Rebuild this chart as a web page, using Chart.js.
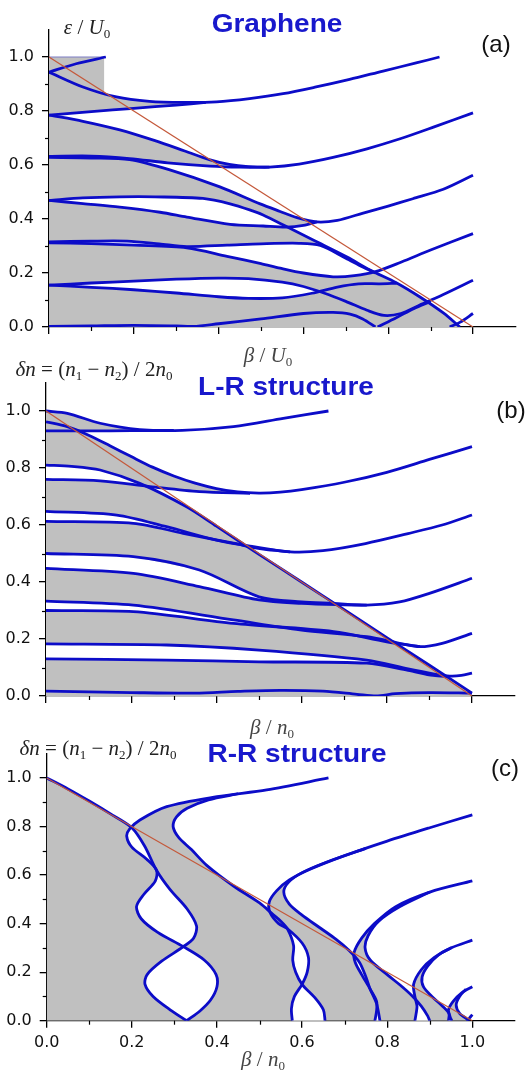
<!DOCTYPE html>
<html>
<head>
<meta charset="utf-8">
<script src="https://cdn.jsdelivr.net/npm/chart.js@4.4.1/dist/chart.umd.min.js"></script>
<style>
  body { margin: 0; background: #fff; }
  #page { position: relative; width: 528px; height: 1070px; overflow: hidden; }
  canvas { position: absolute; left: 0; }
  .t { position: absolute; white-space: nowrap; transform: translate(-50%, -50%); z-index: 5; }
  .title { font: bold 25px "Liberation Sans", Arial, sans-serif; color: #1818cc; transform: translate(-50%, -50%) scaleX(1.12); }
  .tag { font: 24px "Liberation Sans", Arial, sans-serif; color: #111; }
  .ax { font: 21px "Liberation Serif", "Times New Roman", serif; color: #222; }
  .ax i { font-style: italic; }
  .ax sub { font-size: 0.62em; vertical-align: -0.35em; line-height: 0; }
  .beta { color: #444; }
</style>
</head>
<body>
<div id="page">
  <canvas id="ca"></canvas>
  <canvas id="cb"></canvas>
  <canvas id="cc"></canvas>

  <div class="t title" style="left:277px;top:23px">Graphene</div>
  <div class="t title" style="left:286px;top:386px">L-R structure</div>
  <div class="t title" style="left:297px;top:753px">R-R structure</div>
  <div class="t tag" style="left:496px;top:44px">(a)</div>
  <div class="t tag" style="left:511px;top:410px">(b)</div>
  <div class="t tag" style="left:505px;top:768px">(c)</div>
  <div class="t ax" style="left:87px;top:27px"><i>ε</i> / <i>U</i><sub>0</sub></div>
  <div class="t ax beta" style="left:268px;top:355px"><i>β</i> / <i>U</i><sub>0</sub></div>
  <div class="t ax" style="left:94px;top:369px"><i>δn</i> = (<i>n</i><sub>1</sub> − <i>n</i><sub>2</sub>) / 2<i>n</i><sub>0</sub></div>
  <div class="t ax beta" style="left:272px;top:727px"><i>β</i> / <i>n</i><sub>0</sub></div>
  <div class="t ax" style="left:98px;top:748px"><i>δn</i> = (<i>n</i><sub>1</sub> − <i>n</i><sub>2</sub>) / 2<i>n</i><sub>0</sub></div>
  <div class="t ax beta" style="left:263px;top:1059px"><i>β</i> / <i>n</i><sub>0</sub></div>
</div>

<script>
const BLUE = '#0c0cc8';
const GRAY = '#c0c0c0';
const RED = '#c4583a';

// ---- panel (a) : graphene, curves as [beta/U0, eps/U0]
const a0 = [[0,0.944],[0.064,0.975],[0.134,1.0]];
const a1 = [[0,0.944],[0.08,0.889],[0.159,0.852],[0.237,0.836],[0.316,0.832],[0.395,0.834],[0.473,0.846],[0.552,0.864],[0.63,0.889],[0.709,0.917],[0.788,0.948],[0.866,0.978],[0.921,1.0]];
const a2 = [[0,0.785],[0.1,0.798],[0.2,0.81],[0.3,0.822],[0.37,0.832]];
const b1 = [[0,0.785],[0.08,0.762],[0.167,0.73],[0.25,0.69],[0.32,0.652],[0.38,0.619],[0.425,0.602],[0.47,0.594],[0.52,0.592],[0.59,0.603],[0.67,0.628],[0.75,0.66],[0.83,0.698],[0.91,0.742],[1.0,0.793]];
const b2 = [[0,0.632],[0.1,0.633],[0.19,0.624],[0.28,0.608],[0.38,0.596],[0.45,0.592],[0.52,0.592]];
const b3 = [[0,0.628],[0.1,0.626],[0.19,0.62],[0.285,0.582],[0.403,0.519],[0.498,0.456],[0.545,0.428],[0.585,0.405],[0.632,0.389],[0.68,0.395],[0.741,0.422],[0.8,0.448],[0.858,0.475],[0.93,0.51],[1.0,0.562]];
const c1 = [[0,0.469],[0.08,0.478],[0.167,0.482],[0.25,0.482],[0.363,0.476],[0.427,0.456],[0.48,0.43],[0.505,0.415],[0.56,0.372],[0.623,0.322],[0.703,0.259],[0.757,0.211],[0.82,0.163],[0.875,0.111],[0.93,0.052],[0.969,0.0]];
const c2 = [[0,0.469],[0.08,0.457],[0.167,0.444],[0.262,0.425],[0.325,0.407],[0.427,0.38],[0.505,0.374],[0.56,0.37],[0.6,0.376],[0.632,0.389]];
const d1 = [[0,0.315],[0.1,0.318],[0.184,0.318],[0.26,0.308],[0.325,0.298],[0.42,0.303],[0.5,0.308],[0.59,0.31],[0.64,0.302],[0.7,0.255],[0.74,0.222],[0.77,0.2]];
const d2 = [[0,0.312],[0.1,0.309],[0.2,0.303],[0.325,0.293],[0.42,0.262],[0.5,0.235],[0.545,0.218],[0.6,0.2],[0.67,0.186],[0.72,0.19],[0.77,0.205],[0.83,0.24],[0.9,0.285],[1.0,0.346]];
const e1 = [[0,0.155],[0.1,0.163],[0.2,0.17],[0.3,0.177],[0.4,0.181],[0.47,0.179],[0.55,0.166],[0.6,0.15],[0.65,0.125],[0.7,0.095],[0.75,0.062],[0.79,0.043],[0.83,0.05],[0.87,0.078],[0.93,0.12],[1.0,0.173]];
const e2 = [[0,0.155],[0.1,0.147],[0.2,0.138],[0.3,0.126],[0.4,0.112],[0.47,0.106],[0.55,0.108],[0.62,0.125],[0.68,0.148],[0.73,0.16],[0.78,0.16],[0.82,0.162]];
const f0 = [[0,0.002],[0.1,0.004],[0.2,0.006],[0.3,0.004],[0.34,0.002],[0.4,0.012],[0.5,0.03],[0.6,0.05],[0.67,0.054],[0.71,0.048],[0.74,0.03],[0.77,0.0]];
const g0 = [[0.775,0],[0.82,0.035],[0.86,0.068],[0.9,0.095]];
const h0 = [[0.945,0],[0.97,0.018],[1.0,0.05]];

// ---- panel (b) : L-R structure
const bb1 = [[0,1.0],[0.05,0.992],[0.127,0.957],[0.22,0.935],[0.32,0.932],[0.44,0.945],[0.557,0.974],[0.663,1.0]];
const bb2 = [[0,0.93],[0.1,0.93],[0.2,0.931],[0.3,0.932]];
const bb3 = [[0,0.962],[0.05,0.945],[0.1,0.915],[0.15,0.878],[0.2,0.84],[0.25,0.803],[0.3,0.772],[0.35,0.747],[0.4,0.728],[0.45,0.716],[0.5,0.712],[0.55,0.715],[0.6,0.724],[0.7,0.75],[0.8,0.785],[0.9,0.83],[1.0,0.875]];
const bb4 = [[0,0.81],[0.06,0.806],[0.127,0.793],[0.22,0.746],[0.33,0.664],[0.4,0.596],[0.5,0.497],[0.6,0.4],[0.7,0.303],[0.8,0.205],[0.9,0.108],[1.0,0.01]];
const bb5 = [[0,0.76],[0.127,0.755],[0.244,0.735],[0.36,0.717],[0.479,0.711]];
const bb6 = [[0,0.648],[0.166,0.635],[0.283,0.594],[0.4,0.547],[0.487,0.524],[0.573,0.506],[0.65,0.51],[0.75,0.535],[0.85,0.57],[0.93,0.6],[1.0,0.635]];
const bb7 = [[0,0.613],[0.205,0.606],[0.322,0.571],[0.44,0.536],[0.51,0.515],[0.573,0.506]];
const bb8 = [[0,0.5],[0.205,0.489],[0.36,0.442],[0.5,0.348],[0.6,0.33],[0.675,0.325],[0.753,0.319],[0.83,0.33],[0.9,0.36],[1.0,0.413]];
const bb9 = [[0,0.448],[0.205,0.43],[0.36,0.384],[0.5,0.337],[0.6,0.325],[0.7,0.32],[0.753,0.319]];
const bb10 = [[0,0.333],[0.205,0.319],[0.44,0.267],[0.596,0.232],[0.753,0.208],[0.83,0.185],[0.878,0.173],[0.93,0.185],[1.0,0.22]];
const bb11 = [[0,0.3],[0.205,0.296],[0.44,0.255],[0.675,0.226],[0.8,0.19],[0.878,0.173]];
const bb12 = [[0,0.183],[0.283,0.179],[0.5,0.161],[0.753,0.126],[0.85,0.095],[0.909,0.078],[0.948,0.07],[0.975,0.072],[1.0,0.08]];
const bb13 = [[0,0.13],[0.283,0.126],[0.5,0.12],[0.753,0.115],[0.85,0.09],[0.909,0.072],[0.948,0.068]];
const bb14 = [[0,0.017],[0.2,0.012],[0.35,0.01],[0.45,0.016],[0.55,0.02],[0.65,0.017],[0.73,0.006],[0.775,0.0],[0.82,0.008],[0.9,0.012],[1.0,0.01]];

// ---- panel (c) : R-R structure (curves turn back, so plain point lists)
const cD  = [[0,1.0],[0.05,0.955],[0.1,0.905],[0.15,0.852],[0.2,0.795],[0.23,0.72],[0.258,0.62],[0.29,0.54],[0.33,0.46],[0.352,0.39],[0.345,0.34],[0.321,0.305],[0.27,0.245],[0.236,0.19],[0.231,0.15],[0.25,0.1],[0.29,0.045],[0.329,0.0]];
const cO1 = [[0.662,1.0],[0.517,0.951],[0.4,0.923],[0.282,0.882],[0.219,0.827],[0.195,0.79],[0.188,0.76],[0.2,0.715],[0.235,0.665],[0.258,0.62],[0.255,0.575],[0.228,0.52],[0.211,0.47],[0.222,0.42],[0.26,0.365],[0.321,0.305],[0.37,0.25],[0.398,0.19],[0.4,0.14],[0.385,0.085],[0.36,0.04],[0.329,0.0]];
const cI1 = [[0.45,0.935],[0.38,0.91],[0.33,0.875],[0.305,0.84],[0.297,0.8],[0.31,0.755],[0.34,0.705],[0.376,0.64],[0.439,0.555],[0.5,0.485],[0.53,0.44],[0.55,0.41],[0.565,0.38],[0.58,0.31],[0.578,0.25],[0.585,0.2],[0.6,0.15],[0.63,0.095],[0.65,0.045],[0.654,0.0]];
const cO2 = [[1.0,0.848],[0.9,0.795],[0.8,0.74],[0.7,0.68],[0.62,0.625],[0.57,0.58],[0.54,0.535],[0.523,0.49],[0.525,0.445],[0.545,0.4],[0.565,0.38],[0.6,0.32],[0.615,0.26],[0.612,0.2],[0.6,0.15],[0.582,0.1],[0.575,0.05],[0.577,0.0]];
const cI2 = [[0.75,0.71],[0.66,0.655],[0.6,0.61],[0.568,0.57],[0.557,0.53],[0.57,0.48],[0.6,0.435],[0.64,0.385],[0.68,0.335],[0.71,0.29],[0.735,0.24],[0.75,0.18],[0.76,0.13],[0.775,0.07],[0.783,0.0]];
const cO3 = [[1.0,0.576],[0.9,0.53],[0.82,0.47],[0.77,0.4],[0.74,0.34],[0.722,0.28],[0.725,0.24],[0.74,0.19],[0.76,0.13],[0.775,0.08],[0.775,0.04],[0.771,0.0]];
const cI3 = [[0.9,0.53],[0.83,0.47],[0.78,0.41],[0.755,0.35],[0.748,0.3],[0.76,0.25],[0.8,0.19],[0.835,0.14],[0.86,0.1],[0.88,0.06],[0.895,0.02],[0.9,0.0]];
const cO4 = [[1.0,0.332],[0.95,0.3],[0.91,0.26],[0.88,0.21],[0.862,0.15],[0.865,0.1],[0.87,0.06],[0.868,0.03],[0.865,0.0]];
const cI4 = [[0.95,0.3],[0.92,0.27],[0.895,0.225],[0.882,0.18],[0.885,0.14],[0.905,0.1],[0.93,0.06],[0.945,0.03],[0.944,0.0]];
const cO5 = [[1.0,0.14],[0.975,0.115],[0.955,0.08],[0.944,0.045],[0.948,0.015],[0.952,0.0]];
const cI5 = [[0.985,0.13],[0.97,0.1],[0.962,0.065],[0.97,0.03],[0.985,0.01],[0.99,0.0]];
const cX  = [[1.0,0.025],[0.993,0.01],[0.99,0.0]];
// outline of the grey area in (c)
const cGray = [[0,0],[0,1.0],[0.05,0.955],[0.1,0.905],[0.15,0.852],[0.2,0.795],[0.219,0.827],[0.282,0.882],[0.4,0.923],[0.45,0.935],[0.38,0.91],[0.33,0.875],[0.305,0.84],[0.297,0.8],[0.31,0.755],[0.34,0.705],[0.376,0.64],[0.439,0.555],[0.5,0.485],[0.515,0.465],[0.523,0.49],[0.54,0.535],[0.57,0.58],[0.62,0.625],[0.7,0.68],[0.75,0.71],[0.66,0.655],[0.6,0.61],[0.568,0.57],[0.557,0.53],[0.57,0.48],[0.6,0.435],[0.64,0.385],[0.68,0.335],[0.71,0.29],[0.722,0.28],[0.74,0.34],[0.77,0.4],[0.82,0.47],[0.9,0.53],[0.83,0.47],[0.78,0.41],[0.755,0.35],[0.748,0.3],[0.76,0.25],[0.8,0.19],[0.835,0.14],[0.862,0.15],[0.88,0.21],[0.91,0.26],[0.95,0.3],[0.92,0.27],[0.895,0.225],[0.882,0.18],[0.885,0.14],[0.905,0.1],[0.93,0.06],[0.944,0.045],[0.955,0.08],[0.975,0.115],[0.985,0.13],[0.97,0.1],[0.962,0.065],[0.97,0.03],[0.985,0.01],[0.99,0.0]];

const diag = [[0,1],[1,0]];

// helpers
const P = a => a.map(([x, y]) => ({x, y}));
const rev = a => a.slice().reverse();
// piece of an x-monotone curve between x0 and x1
function seg(c, x0, x1) {
  const at = x => {
    for (let i = 1; i < c.length; i++) {
      const [xa, ya] = c[i-1], [xb, yb] = c[i];
      if (x >= xa && x <= xb) return [x, ya + (yb - ya) * (x - xa) / (xb - xa)];
    }
    return null;
  };
  const out = [at(x0)];
  c.forEach(p => { if (p[0] > x0 && p[0] < x1) out.push(p); });
  out.push(at(x1));
  return out.filter(Boolean);
}
const lens = (u, l, x1) => [...seg(u, 0, x1), ...rev(seg(l, 0, x1))];

const line = (d, w) => ({data: P(d), borderColor: BLUE, borderWidth: w || 2.8, pointRadius: 0, tension: 0.3, fill: false, order: 1});
const shape = (d, color, order) => ({data: P(d), borderWidth: 0, borderColor: 'rgba(0,0,0,0)', backgroundColor: color, pointRadius: 0, tension: 0, fill: 'shape', order: order});
const red = () => ({data: P(diag), borderColor: RED, borderWidth: 1.2, pointRadius: 0, fill: false, order: 0});

const minorTicks = {
  id: 'minorTicks',
  afterDraw(chart) {
    const {ctx, scales: {x, y}} = chart;
    ctx.save();
    ctx.strokeStyle = '#000';
    ctx.lineWidth = 1.2;
    [0.1, 0.3, 0.5, 0.7, 0.9].forEach(v => {
      const px = Math.round(x.getPixelForValue(v)) + 0.5;
      ctx.beginPath(); ctx.moveTo(px, x.top); ctx.lineTo(px, x.top + 4); ctx.stroke();
      const py = Math.round(y.getPixelForValue(v)) + 0.5;
      ctx.beginPath(); ctx.moveTo(y.right - 4, py); ctx.lineTo(y.right, py); ctx.stroke();
    });
    ctx.restore();
  }
};

function panel(id, top, h, area, datasets, xLabels) {
  const cv = document.getElementById(id);
  cv.width = 528; cv.height = h; cv.style.top = top + 'px';
  const tickFont = {family: '"DejaVu Sans", Arial, sans-serif', size: 16};
  const xh = xLabels ? 42 : 20;
  const axisCommon = {
    type: 'linear', min: 0, max: 1.1,
    border: {color: '#000', width: 1.3},
    grid: {drawOnChartArea: false, tickLength: 7, color: '#000', lineWidth: 1.3},
  };
  return new Chart(cv, {
    type: 'line',
    data: {datasets},
    options: {
      responsive: false, animation: false, devicePixelRatio: 1,
      layout: {padding: {left: area.left - 44, top: area.top, right: 528 - area.right, bottom: h - area.bottom - xh}},
      plugins: {legend: {display: false}, tooltip: {enabled: false}},
      scales: {
        x: {...axisCommon, afterFit: s => { s.height = xh; },
            ticks: {display: xLabels, stepSize: 0.2, includeBounds: false, maxRotation: 0, autoSkip: false, padding: 6,
                    color: '#111', font: tickFont, callback: v => v.toFixed(1)}},
        y: {...axisCommon, afterFit: s => { s.width = 44; },
            ticks: {stepSize: 0.2, includeBounds: false, autoSkip: false, padding: 8,
                    color: '#111', font: tickFont, callback: v => v.toFixed(1)}}
      }
    },
    plugins: [minorTicks]
  });
}

// (a)
const aGray = [[0,0],[0,1],[0.13,1], ...seg(a1,0.13,0.37), ...rev(seg(a2,0,0.37)), ...seg(b1,0,0.52),
  ...rev(seg(b2,0.19,0.52)), ...seg(b3,0.19,0.632), ...rev(seg(c2,0.56,0.632)), ...seg(c1,0.56,0.969)];
panel('ca', 0, 350, {left: 49, right: 515.4, top: 30, bottom: 327}, [
  red(),
  ...[a0, a1, a2, b1, b2, b3, c1, c2, d1, d2, e1, e2, f0, g0, h0].map(c => line(c)),
  {data: P([[0,1],[0.134,1]]), borderColor: '#7c7cc4', borderWidth: 1, pointRadius: 0, fill: false, order: 1},
  shape(lens(b2, b3, 0.19), '#fff', 2),
  shape(lens(c1, c2, 0.56), '#fff', 2),
  shape(lens(d1, d2, 0.77), '#fff', 2),
  shape(lens(e1, e2, 0.64), '#fff', 2),
  shape(aGray, GRAY, 3)
], false);

// (b)
const bGray = [[0,0],[0,1], ...seg(bb1,0,0.32), ...rev(seg(bb2,0.075,0.3)), ...seg(bb3,0.075,0.479),
  ...rev(seg(bb5,0.25,0.479)), ...seg(bb4,0.25,1.0), [1,0]];
panel('cb', 350, 370, {left: 46, right: 514.6, top: 32.5, bottom: 346}, [
  red(),
  ...[bb1, bb2, bb3, bb4, bb5, bb6, bb7, bb8, bb9, bb10, bb11, bb12, bb13, bb14].map(c => line(c)),
  shape(lens(bb4, bb5, 0.25), '#fff', 2),
  shape(lens(bb6, bb7, 0.4), '#fff', 2),
  shape(lens(bb8, bb9, 0.7), '#fff', 2),
  shape(lens(bb10, bb11, 0.878), '#fff', 2),
  shape(lens(bb12, bb13, 0.948), '#fff', 2),
  shape(bGray, GRAY, 3)
], false);

// (c)
const eye = (a, i, b, j) => [...a.slice(i), ...rev(b.slice(j))];
panel('cc', 720, 350, {left: 46.7, right: 514.9, top: 33.7, bottom: 300.7}, [
  red(),
  ...[cD, cO1, cI1, cO2, cI2, cO3, cI3, cO4, cI4, cO5, cI5, cX].map(c => line(c)),
  shape(eye(cD, 4, cO1, 5), '#fff', 2),
  shape(eye(cI1, 12, cO2, 10), '#fff', 2),
  shape(eye(cI2, 9, cO3, 5), '#fff', 2),
  shape(eye(cI3, 7, cO4, 4), '#fff', 2),
  shape(eye(cI4, 6, cO5, 3), '#fff', 2),
  shape(cGray, GRAY, 3)
], true);
</script>
</body>
</html>
